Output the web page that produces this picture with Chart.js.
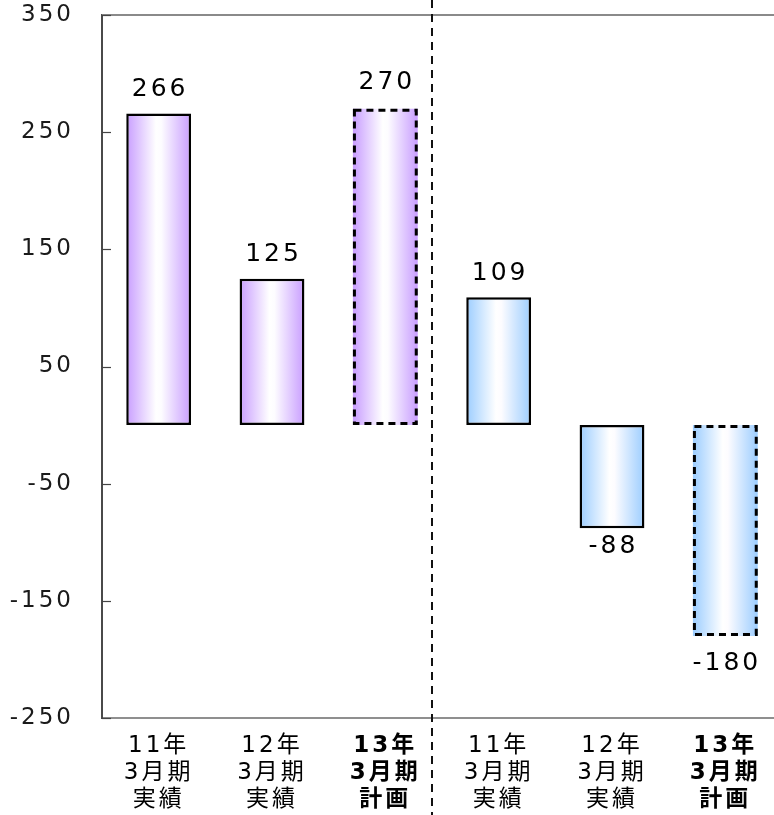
<!DOCTYPE html>
<html>
<head>
<meta charset="utf-8">
<script src="https://cdn.jsdelivr.net/npm/chart.js@4/dist/chart.umd.min.js"></script>
<style>
  html, body { margin: 0; padding: 0; background: #fff; overflow: hidden; }
  #wrap { width: 800px; height: 815px; }
</style>
</head>
<body>
<div id="wrap"><canvas id="c" width="800" height="815"></canvas></div>
<script>
// Category label lines (three lines per bar)
const yearLabels   = ['11年', '12年', '13年', '11年', '12年', '13年'];
const periodLabels = ['3月期', '3月期', '3月期', '3月期', '3月期', '3月期'];
const kindLabels   = ['実績', '実績', '計画', '実績', '実績', '計画'];

// Values per bar
const values  = [266, 125, 270, 109, -88, -180];
// Plan figures (drawn with a dashed outline)
const planned = [false, false, true, false, false, true];
// Which of the two groups each bar belongs to
const segment = [0, 0, 0, 1, 1, 1];

// Y axis tick values
const yTicks = [-250, -150, -50, 50, 150, 250, 350];

// ---- styling ----
const edgeColors = ['#c89dff', '#9ccdff'];
const BAR_PCT = 0.572;
const AXIS_FONT = '"DejaVu Sans", "Noto Sans CJK JP", sans-serif';

function makeGradient(ctx, cx, half, i) {
  const g = ctx.createLinearGradient(cx - half, 0, cx + half, 0);
  const edge = edgeColors[segment[i]];
  g.addColorStop(0, edge);
  g.addColorStop(0.46, '#ffffff');
  g.addColorStop(0.54, '#fdfcff');
  g.addColorStop(1, edge);
  return g;
}

// Frame lines, inward y ticks, gradients, dashed outlines, value labels, separator
const decorations = {
  id: 'decorations',
  beforeDraw(chart) {
    chart.ctx.letterSpacing = '3px';
  },
  beforeDatasetsDraw(chart) {
    const { ctx, chartArea: a, scales: { y } } = chart;
    // horizontal white-centre gradient for each bar
    chart.getDatasetMeta(0).data.forEach((el, i) => {
      if (Number.isFinite(el.x) && Number.isFinite(el.width)) {
        el.options.backgroundColor = makeGradient(ctx, el.x, el.width / 2, i);
      }
    });
    ctx.save();
    ctx.letterSpacing = '0px';
    // top frame line
    ctx.strokeStyle = '#8a8a8a';
    ctx.lineWidth = 2;
    ctx.beginPath();
    ctx.moveTo(a.left, a.top);
    ctx.lineTo(a.right, a.top);
    ctx.stroke();
    // short inward tick marks on the value axis
    ctx.strokeStyle = '#444';
    ctx.lineWidth = 1.2;
    y.ticks.forEach(t => {
      const py = Math.round(y.getPixelForValue(t.value)) + 0.5;
      ctx.beginPath();
      ctx.moveTo(a.left, py);
      ctx.lineTo(a.left + 9, py);
      ctx.stroke();
    });
    ctx.restore();
  },
  afterDatasetsDraw(chart) {
    const { ctx } = chart;
    const meta = chart.getDatasetMeta(0);
    ctx.save();
    meta.data.forEach((el, i) => {
      const w = el.width;
      const top = Math.min(el.y, el.base);
      const bot = Math.max(el.y, el.base);
      if (planned[i]) {
        ctx.strokeStyle = '#000';
        ctx.lineWidth = 3;
        ctx.setLineDash([7, 5]);
        ctx.strokeRect(el.x - w / 2 + 1.5, top + 1.5, w - 3, bot - top - 3);
        ctx.setLineDash([]);
      }
      // value label
      const v = values[i];
      ctx.letterSpacing = '3px';
      ctx.font = '25px "DejaVu Sans", sans-serif';
      ctx.fillStyle = '#000';
      ctx.textAlign = 'center';
      ctx.textBaseline = 'middle';
      const ly = v >= 0
        ? el.y - 24 - (planned[i] ? 2 : 0)
        : el.y + 18 + (planned[i] ? 10 : 0);
      ctx.fillText(String(v), el.x + 1.5, ly);
    });
    ctx.restore();
  },
  afterDraw(chart) {
    const { ctx, scales: { x } } = chart;
    ctx.save();
    ctx.letterSpacing = '0px';
    const px = Math.round(x.getPixelForValue(2.41));
    ctx.strokeStyle = '#111';
    ctx.lineWidth = 2;
    ctx.setLineDash([8, 6]);
    ctx.beginPath();
    ctx.moveTo(px, 0);
    ctx.lineTo(px, chart.height);
    ctx.stroke();
    ctx.restore();
    ctx.letterSpacing = '0px';
  }
};

new Chart(document.getElementById('c'), {
  type: 'bar',
  data: {
    labels: yearLabels.map((y, i) => [y, periodLabels[i], kindLabels[i]]),
    datasets: [{
      data: values,
      backgroundColor: ctx => edgeColors[segment[ctx.dataIndex] || 0],
      borderColor: '#000',
      borderWidth: ctx => (ctx.dataIndex !== undefined && planned[ctx.dataIndex]) ? 0 : 2.5,
      borderSkipped: false,
      barPercentage: BAR_PCT,
      categoryPercentage: 1
    }]
  },
  options: {
    responsive: false,
    animation: false,
    devicePixelRatio: 1,
    layout: { padding: { top: 15, right: 18, left: 0, bottom: 0 } },
    plugins: { legend: { display: false }, tooltip: { enabled: false } },
    scales: {
      x: {
        grid: { display: true, drawOnChartArea: false, drawTicks: false },
        border: { display: true, color: '#8f8f8f', width: 2 },
        ticks: {
          color: '#000',
          padding: 15,
          maxRotation: 0,
          autoSkip: false,
          font: ctx => ({
            family: AXIS_FONT,
            size: 23,
            lineHeight: 1.17,
            weight: planned[ctx.index] ? 'bold' : 'normal'
          })
        },
        afterFit(scale) {
          scale.height = 97;
          scale.paddingLeft = 0;
          scale.paddingRight = 0;
        }
      },
      y: {
        min: -250,
        max: 350,
        afterBuildTicks(scale) { scale.ticks = yTicks.map(v => ({ value: v })); },
        grid: { display: true, drawOnChartArea: false, drawTicks: false },
        border: { display: true, color: '#4a4a4a', width: 2 },
        ticks: {
          color: '#1a1a1a',
          padding: 28,
          font: { family: AXIS_FONT, size: 23 }
        },
        afterFit(scale) {
          scale.width = 102;
          scale.paddingTop = 0;
          scale.paddingBottom = 0;
        }
      }
    }
  },
  plugins: [decorations]
});
</script>
</body>
</html>
